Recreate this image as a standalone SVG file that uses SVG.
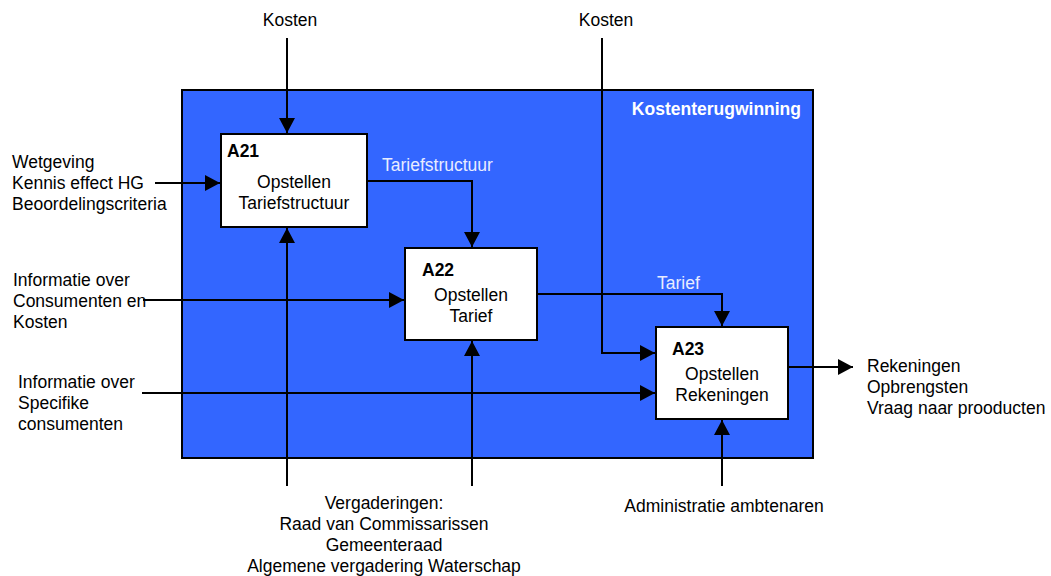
<svg xmlns="http://www.w3.org/2000/svg" width="1051" height="576" viewBox="0 0 1051 576">
  <style>
    text { font-family: "Liberation Sans", Arial, sans-serif; font-size: 17.5px; fill: #000; }
    .bold { font-weight: bold; }
    .mid { text-anchor: middle; }
    .light { fill: #E8ECFF; }
    .white { fill: #FFFFFF; }
    .box { fill: #FFFFFF; stroke: #000; stroke-width: 2; }
    .wire { fill: none; stroke: #000; stroke-width: 2; }
  </style>
  <defs>
    <marker id="arrow" markerUnits="userSpaceOnUse" markerWidth="16" markerHeight="16" refX="15" refY="8" orient="auto">
      <path d="M0,0 L15,8 L0,16 Z" fill="#000"/>
    </marker>
  </defs>
  <rect width="1051" height="576" fill="#FFFFFF"/>

  <!-- parent activity frame -->
  <g id="frame">
    <rect x="182" y="90" width="631" height="368" fill="#3366FF" stroke="#000" stroke-width="2"/>
    <text x="801" y="115" class="bold white" text-anchor="end">Kostenterugwinning</text>
  </g>

  <!-- connectors -->
  <g id="connectors">
    <path class="wire" d="M287,38 V133" marker-end="url(#arrow)"/>
    <path class="wire" d="M602,38 V353 H655" marker-end="url(#arrow)"/>
    <path class="wire" d="M155,183 H220" marker-end="url(#arrow)"/>
    <path class="wire" d="M143,300 H404" marker-end="url(#arrow)"/>
    <path class="wire" d="M142,393 H655" marker-end="url(#arrow)"/>
    <path class="wire" d="M367,181 H472 V247" marker-end="url(#arrow)"/>
    <path class="wire" d="M537,294 H722 V326" marker-end="url(#arrow)"/>
    <path class="wire" d="M287,486 V228" marker-end="url(#arrow)"/>
    <path class="wire" d="M472,486 V341" marker-end="url(#arrow)"/>
    <path class="wire" d="M722,486 V420" marker-end="url(#arrow)"/>
    <path class="wire" d="M788,367 H853" marker-end="url(#arrow)"/>
    <text x="382" y="171" class="light">Tariefstructuur</text>
    <text x="657" y="289" class="light">Tarief</text>
  </g>

  <!-- activity A21 -->
  <g id="A21">
    <rect class="box" x="221" y="134" width="146" height="93"/>
    <text x="227" y="157" class="bold">A21</text>
    <text x="294" y="188" class="mid">Opstellen</text>
    <text x="294" y="209" class="mid">Tariefstructuur</text>
  </g>

  <!-- activity A22 -->
  <g id="A22">
    <rect class="box" x="405" y="248" width="132" height="92"/>
    <text x="422" y="276" class="bold">A22</text>
    <text x="471" y="301" class="mid">Opstellen</text>
    <text x="471" y="322" class="mid">Tarief</text>
  </g>

  <!-- activity A23 -->
  <g id="A23">
    <rect class="box" x="656" y="327" width="132" height="92"/>
    <text x="672" y="355" class="bold">A23</text>
    <text x="722" y="380" class="mid">Opstellen</text>
    <text x="722" y="401" class="mid">Rekeningen</text>
  </g>

  <!-- external labels -->
  <g id="control-kosten-1">
    <text x="290" y="26" class="mid">Kosten</text>
  </g>
  <g id="control-kosten-2">
    <text x="606" y="26" class="mid">Kosten</text>
  </g>
  <g id="input-wetgeving">
    <text x="12" y="168">Wetgeving</text>
    <text x="12" y="189">Kennis effect HG</text>
    <text x="12" y="210">Beoordelingscriteria</text>
  </g>
  <g id="input-consumenten">
    <text x="13" y="286">Informatie over</text>
    <text x="13" y="307">Consumenten en</text>
    <text x="13" y="328">Kosten</text>
  </g>
  <g id="input-specifiek">
    <text x="18" y="388">Informatie over</text>
    <text x="18" y="409">Specifike</text>
    <text x="18" y="430">consumenten</text>
  </g>
  <g id="mechanism-vergaderingen">
    <text x="384" y="509" class="mid">Vergaderingen:</text>
    <text x="384" y="530" class="mid">Raad van Commissarissen</text>
    <text x="384" y="551" class="mid">Gemeenteraad</text>
    <text x="384" y="572" class="mid">Algemene vergadering Waterschap</text>
  </g>
  <g id="mechanism-administratie">
    <text x="724" y="512" class="mid">Administratie ambtenaren</text>
  </g>
  <g id="output">
    <text x="867" y="372">Rekeningen</text>
    <text x="867" y="393">Opbrengsten</text>
    <text x="867" y="414">Vraag naar prooducten</text>
  </g>
</svg>
